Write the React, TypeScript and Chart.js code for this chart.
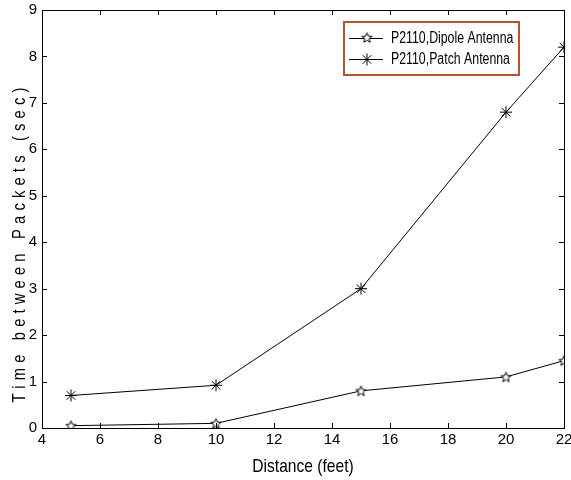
import React, { useEffect, useRef } from "react";
import { Chart, registerables } from "chart.js";

Chart.register(...registerables);

const distances = [5, 10, 15, 20, 22];
const dipoleValues = [0.05, 0.1, 0.8, 1.1, 1.45];
const patchValues = [0.7, 0.92, 3.0, 6.8, 8.2];
const seriesLabels = ["P2110,Dipole Antenna", "P2110,Patch Antenna"];
const xTitle = "Distance (feet)";
const yTitle = "Time between Packets (sec)";

const FONT = "'Liberation Sans', Arial, sans-serif";

function makeStar(): HTMLCanvasElement {
  const c = document.createElement("canvas");
  c.width = 13;
  c.height = 13;
  const ctx = c.getContext("2d")!;
  ctx.strokeStyle = "#000";
  ctx.lineWidth = 1;
  ctx.beginPath();
  const cx = 6.5, cy = 7, R = 5.3, r = 2.3;
  for (let i = 0; i < 10; i++) {
    const a = -Math.PI / 2 + (i * Math.PI) / 5;
    const rad = i % 2 === 0 ? R : r;
    const px = cx + rad * Math.cos(a);
    const py = cy + rad * Math.sin(a);
    if (i === 0) ctx.moveTo(px, py);
    else ctx.lineTo(px, py);
  }
  ctx.closePath();
  ctx.fillStyle = "#fff";
  ctx.fill();
  ctx.stroke();
  return c;
}

function narrowText(ctx: CanvasRenderingContext2D, text: string, x: number, y: number, size: number, align: "left" | "center", squeeze: number, spacing = 0) {
  ctx.save();
  ctx.translate(x, y);
  ctx.scale(squeeze, 1);
  ctx.font = `${size}px ${FONT}`;
  (ctx as any).letterSpacing = `${spacing}px`;
  ctx.textBaseline = "middle";
  ctx.textAlign = "left";
  const w = ctx.measureText(text).width - spacing;
  ctx.fillText(text, align === "center" ? -w / 2 : 0, 0);
  ctx.restore();
}

const frame = {
  id: "frame",
  afterDraw(chart: any) {
    const { ctx, chartArea: a, scales } = chart;
    ctx.save();
    ctx.strokeStyle = "#000";
    ctx.lineWidth = 1;
    ctx.strokeRect(Math.round(a.left) + 0.5, Math.round(a.top) + 0.5, Math.round(a.right - a.left), Math.round(a.bottom - a.top));
    const tl = 5;
    ctx.beginPath();
    scales.x.ticks.forEach((t: any) => {
      const px = Math.round(scales.x.getPixelForValue(t.value)) + 0.5;
      ctx.moveTo(px, a.bottom);
      ctx.lineTo(px, a.bottom - tl);
      ctx.moveTo(px, a.top);
      ctx.lineTo(px, a.top + tl);
    });
    scales.y.ticks.forEach((t: any) => {
      const py = Math.round(scales.y.getPixelForValue(t.value)) + 0.5;
      ctx.moveTo(a.left, py);
      ctx.lineTo(a.left + tl, py);
      ctx.moveTo(a.right, py);
      ctx.lineTo(a.right - tl, py);
    });
    ctx.stroke();

    // axis titles
    ctx.fillStyle = "#000";
    narrowText(ctx, xTitle, (a.left + a.right) / 2, 467, 19, "center", 0.82);
    ctx.save();
    ctx.translate(20, 245);
    ctx.rotate(-Math.PI / 2);
    narrowText(ctx, yTitle, 0, 0, 18, "center", 0.82, 6.3);
    ctx.restore();

    // legend
    const lx = 344, ly = 22, lw = 175, lh = 53;
    ctx.fillStyle = "#fff";
    ctx.fillRect(lx, ly, lw, lh);
    ctx.strokeStyle = "#B4552D";
    ctx.lineWidth = 2;
    ctx.strokeRect(lx, ly, lw, lh);
    chart.data.datasets.forEach((ds: any, i: number) => {
      const yy = ly + 16 + i * 21;
      ctx.strokeStyle = "#000";
      ctx.lineWidth = 1;
      ctx.beginPath();
      ctx.moveTo(lx + 5, yy + 0.5);
      ctx.lineTo(lx + 39, yy + 0.5);
      ctx.stroke();
      const mx = lx + 23;
      if (i === 0) {
        ctx.drawImage(ds.pointStyle, mx - 6.5, yy - 7);
      } else {
        ctx.beginPath();
        const r = 6;
        for (let k = 0; k < 4; k++) {
          const ang = (k * Math.PI) / 4;
          ctx.moveTo(mx + r * Math.cos(ang), yy + 0.5 + r * Math.sin(ang));
          ctx.lineTo(mx - r * Math.cos(ang), yy + 0.5 - r * Math.sin(ang));
        }
        ctx.stroke();
      }
      ctx.fillStyle = "#000";
      narrowText(ctx, ds.label, lx + 47, yy + 1, 16, "left", 0.77);
    });
    ctx.restore();
  },
};

export default function App() {
  const ref = useRef<HTMLCanvasElement>(null);
  useEffect(() => {
    document.body.style.margin = "0";
    const star = makeStar();
    const chart = new Chart(ref.current!, {
      type: "line",
      data: {
        datasets: [
          {
            label: seriesLabels[0],
            data: distances.map((x, i) => ({ x, y: dipoleValues[i] })),
            borderColor: "#000",
            borderWidth: 1,
            pointStyle: star as any,
            pointRadius: 6,
            tension: 0,
          },
          {
            label: seriesLabels[1],
            data: distances.map((x, i) => ({ x, y: patchValues[i] })),
            borderColor: "#000",
            backgroundColor: "#000",
            borderWidth: 1,
            pointStyle: "star",
            pointRadius: 6,
            pointBorderWidth: 1,
            tension: 0,
          },
        ],
      },
      options: {
        animation: false,
        responsive: false,
        layout: { padding: { top: 10, right: 6, left: 0, bottom: 0 } },
        plugins: { legend: { display: false }, tooltip: { enabled: false } },
        scales: {
          x: {
            type: "linear",
            min: 4,
            max: 22,
            ticks: { stepSize: 2, color: "#000", padding: 3, font: { family: FONT, size: 15 }, maxRotation: 0 },
            grid: { display: false, drawTicks: false },
            border: { display: false },
            afterFit: (s: any) => {
              s.height = 52;
              s.paddingLeft = 0;
              s.paddingRight = 0;
            },
          },
          y: {
            min: 0,
            max: 9,
            ticks: { stepSize: 1, color: "#000", padding: 5, font: { family: FONT, size: 15 } },
            grid: { display: false, drawTicks: false },
            border: { display: false },
            afterFit: (s: any) => {
              s.width = 42;
              s.paddingTop = 0;
              s.paddingBottom = 0;
            },
          },
        },
      },
      plugins: [frame],
    });
    return () => chart.destroy();
  }, []);
  return (
    <div style={{ position: "absolute", left: 0, top: 0, width: 571, height: 480 }}>
      <canvas ref={ref} width={571} height={480} style={{ width: 571, height: 480 }} />
    </div>
  );
}
